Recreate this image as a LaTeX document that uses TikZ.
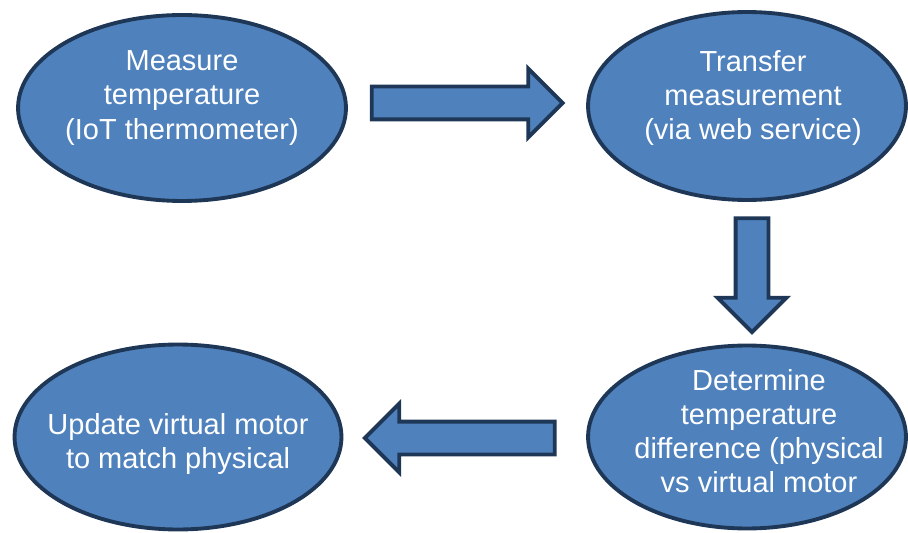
\documentclass[tikz,border=0pt]{standalone}
\usepackage{fontspec}
\setmainfont{Liberation Sans}
\usetikzlibrary{shapes.geometric,shapes.arrows,positioning,calc}
\definecolor{stagefill}{RGB}{79,129,189}
\definecolor{stageline}{RGB}{31,55,86}

\begin{document}
\begin{tikzpicture}[
    x=0.02cm, y=-0.02cm,
    stage/.style={ellipse, draw=stageline, fill=stagefill, line width=2.2pt, inner sep=0pt},
    stagetext/.style={align=center, text=white, font=\fontsize{16.5}{19.4}\selectfont},
    flow/.style={single arrow, draw=stageline, fill=stagefill, line width=2.2pt,
                 inner xsep=0pt, inner ysep=0.29cm,
                 single arrow tip angle=90, single arrow head extend=0.36cm}
]
    \useasboundingbox (0,0) rectangle (908,533);

    % Stages
    \node[stage, minimum width=6.56cm, minimum height=3.72cm] (measure) at (182,108) {};
    \node[stage, minimum width=6.36cm, minimum height=3.76cm] (transfer) at (747,106) {};
    \node[stage, minimum width=6.36cm, minimum height=3.66cm] (determine) at (747,437) {};
    \node[stage, minimum width=6.54cm, minimum height=3.7cm] (update) at (178,437) {};

    % Texts
    \node[stagetext] (measuretxt) at (182,98) {Measure\\temperature\\(IoT thermometer)};
    \node[stagetext] (transfertxt) at (753,98) {Transfer\\measurement\\(via web service)};
    \node[stagetext] (determinetxt) at (759,431) {Determine\\temperature\\difference (physical\\vs virtual motor};
    \node[stagetext] (updatetxt) at (178,444) {Update virtual motor\\to match physical};

    % Arrows
    \node[flow, minimum height=3.82cm] (a1) at (459,103) {};
    \node[flow, minimum height=2.28cm, rotate=-90] (a2) at (752,267) {};
    \node[flow, minimum height=3.8cm, rotate=180] (a3) at (468,438) {};
\end{tikzpicture}
\end{document}
